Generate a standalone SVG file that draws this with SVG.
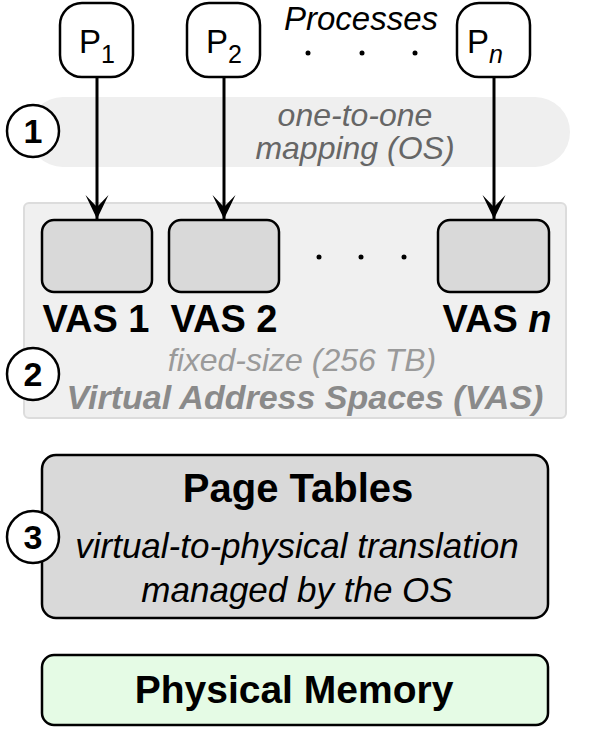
<svg xmlns="http://www.w3.org/2000/svg" width="598" height="735" viewBox="0 0 598 735">
<style>
text{font-family:"Liberation Sans",Arial,sans-serif;}
.proc{fill:#fff;stroke:#000;stroke-width:2.5;}
.vas{fill:#d9d9d9;stroke:#000;stroke-width:2.5;}
.num{fill:#fff;stroke:#000;stroke-width:2.5;}
.numt{font-size:34px;font-weight:bold;text-anchor:middle;}
.conn{stroke:#000;stroke-width:3;fill:none;}
.big{font-weight:bold;text-anchor:middle;fill:#000;}
.c{text-anchor:middle;}
</style>
<defs>
<marker id="ah" markerWidth="28" markerHeight="28" viewBox="-26 -14 28 28" refX="0" refY="0" orient="auto" markerUnits="userSpaceOnUse">
<path d="M0,0 L-24,-11.5 L-12,0 L-24,11.5 Z" fill="#000"/>
</marker>
</defs>
<rect width="598" height="735" fill="#fff"/>
<g id="band1">
<rect x="28" y="97" width="542" height="70" rx="35" fill="#efefef"/>
<text class="c" x="355" y="126" font-size="32" font-style="italic" fill="#666">one-to-one</text>
<text class="c" x="355" y="159" font-size="32" font-style="italic" fill="#666">mapping (OS)</text>
</g>
<g id="vas-container">
<rect x="24" y="203" width="542" height="215" rx="5" fill="#f0f0f0" stroke="#dcdcdc" stroke-width="2"/>
<text class="c" x="302" y="371" font-size="32" font-style="italic" fill="#9a9a9a">fixed-size (256 TB)</text>
<text class="c" x="305" y="409" font-size="34" font-style="italic" font-weight="bold" fill="#8a8a8a">Virtual Address Spaces (VAS)</text>
</g>
<g id="processes-label">
<text class="c" x="361" y="30" font-size="33" font-style="italic">Processes</text>
<circle cx="308" cy="53" r="2.5"/><circle cx="362" cy="53" r="2.5"/><circle cx="415" cy="53" r="2.5"/>
</g>
<g id="p1">
<rect class="proc" x="60" y="3" width="73" height="74" rx="22"/>
<text x="79" y="53" font-size="33">P<tspan font-size="25" dy="10">1</tspan></text>
</g>
<g id="p2">
<rect class="proc" x="187" y="3" width="73" height="74" rx="22"/>
<text x="206" y="53" font-size="33">P<tspan font-size="25" dy="10">2</tspan></text>
</g>
<g id="pn">
<rect class="proc" x="457" y="3" width="73" height="74" rx="22"/>
<text x="467" y="53" font-size="33">P<tspan font-size="25" dy="10" font-style="italic">n</tspan></text>
</g>
<g id="connectors">
<line class="conn" x1="97" y1="77" x2="97" y2="219" marker-end="url(#ah)"/>
<line class="conn" x1="224" y1="77" x2="224" y2="219" marker-end="url(#ah)"/>
<line class="conn" x1="494" y1="77" x2="494" y2="219" marker-end="url(#ah)"/>
</g>
<g id="vas1">
<rect class="vas" x="42" y="220" width="110" height="72" rx="12"/>
<text class="big" x="96" y="332" font-size="38">VAS 1</text>
</g>
<g id="vas2">
<rect class="vas" x="169" y="220" width="110" height="72" rx="12"/>
<text class="big" x="224" y="332" font-size="38">VAS 2</text>
</g>
<g id="vas-dots">
<circle cx="319" cy="257" r="2.5"/><circle cx="361" cy="257" r="2.5"/><circle cx="404" cy="257" r="2.5"/>
</g>
<g id="vasn">
<rect class="vas" x="438" y="220" width="111" height="72" rx="12"/>
<text class="big" x="497" y="332" font-size="38">VAS <tspan font-style="italic">n</tspan></text>
</g>
<g id="page-tables">
<rect class="vas" x="42" y="455" width="506" height="163" rx="14"/>
<text class="big" x="298" y="502" font-size="40">Page Tables</text>
<text class="c" x="297" y="558" font-size="35" font-style="italic">virtual-to-physical translation</text>
<text class="c" x="297" y="602" font-size="35" font-style="italic">managed by the OS</text>
</g>
<g id="physical-memory">
<rect x="42" y="655" width="506" height="70" rx="12" fill="#e5fbe5" stroke="#000" stroke-width="2.5"/>
<text class="big" x="294" y="703" font-size="39">Physical Memory</text>
</g>
<g id="step1">
<circle class="num" cx="33" cy="131" r="26"/>
<text class="numt" x="33" y="143">1</text>
</g>
<g id="step2">
<circle class="num" cx="33" cy="374" r="26"/>
<text class="numt" x="33" y="386">2</text>
</g>
<g id="step3">
<circle class="num" cx="33" cy="537" r="26"/>
<text class="numt" x="33" y="549">3</text>
</g>
</svg>
